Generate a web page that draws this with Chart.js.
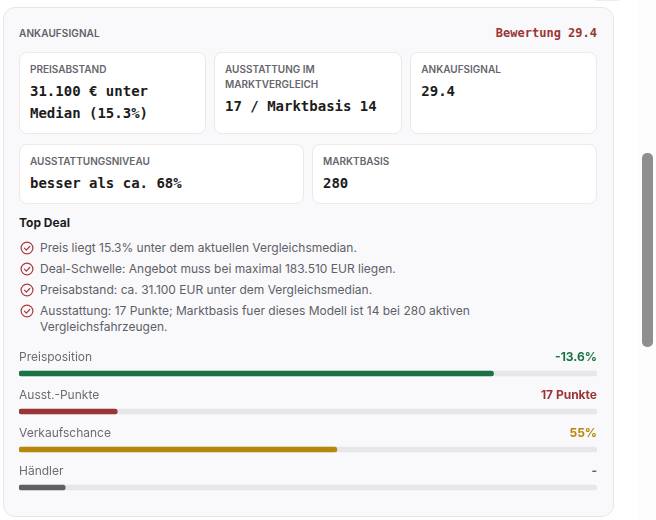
<!DOCTYPE html>
<html lang="de">
<head>
<meta charset="utf-8">
<title>Ankaufsignal</title>
<script src="https://cdn.jsdelivr.net/npm/chart.js@4"></script>
<style>
html, body { margin: 0; padding: 0; background: #fff; overflow: hidden; }
body { width: 656px; height: 520px; position: relative; font-family: Inter, "Noto Sans", sans-serif; }
.abs { position: absolute; }
#gutter { left: 638px; top: 0; width: 18px; height: 520px; background: #fdfdfd; }
#panel { left: 3px; top: 7px; width: 609px; height: 508px; background: #f9f9fc; border: 1px solid #e9e5e6; border-radius: 12px; }
#topmark { left: 595px; top: -4px; width: 25px; height: 5px; background: #f7e9e9; border-radius: 4px; }
#scroll { left: 642px; top: 153px; width: 11px; height: 194px; background: #8f8f8f; border-radius: 5px; }
.head { font-size: 10px; font-weight: 600; color: #5f6066; line-height: 16px; letter-spacing: 0.1px; }
.score { font-family: "DejaVu Sans Mono", monospace; font-size: 12px; font-weight: 700; color: #9b3535; line-height: 16px; white-space: nowrap; }
.tile { box-sizing: border-box; background: #fff; border: 1px solid #eee8e9; border-radius: 8px; padding: 9px 10px; }
.tile .lab { font-size: 10px; font-weight: 600; color: #66666c; line-height: 15px; }
.tile .val { font-family: "DejaVu Sans Mono", monospace; font-size: 14px; font-weight: 700; color: #1c1c20; line-height: 22px; margin-top: 3px; }
#title { left: 19px; top: 215px; font-size: 12px; font-weight: 700; color: #1c1c20; line-height: 16px; }
.li { left: 40px; width: 470px; font-size: 12px; color: #5f6066; line-height: 16px; }
.ico { left: 19.5px; width: 14px; height: 14px; }
#bars { left: 19px; top: 354px; }
.rowlab { left: 19px; font-size: 12px; color: #6b6b72; line-height: 16px; }
.rowval { right: 59px; font-size: 12px; font-weight: 700; line-height: 16px; }
</style>
</head>
<body>
<div class="abs" id="gutter"></div>
<div class="abs" id="topmark"></div>
<div class="abs" id="panel"></div>
<div class="abs" id="scroll"></div>

<div class="abs head" style="left:19px;top:25px">ANKAUFSIGNAL</div>
<div class="abs score" style="right:59px;top:25px">Bewertung 29.4</div>

<div class="abs tile" style="left:19px;top:52px;width:186.67px;height:82px"><div class="lab">PREISABSTAND</div><div class="val">31.100 € unter Median (15.3%)</div></div>
<div class="abs tile" style="left:214px;top:52px;width:188px;height:82px"><div class="lab">AUSSTATTUNG IM MARKTVERGLEICH</div><div class="val">17 / Marktbasis 14</div></div>
<div class="abs tile" style="left:410.33px;top:52px;width:186.67px;height:82px"><div class="lab">ANKAUFSIGNAL</div><div class="val">29.4</div></div>
<div class="abs tile" style="left:19px;top:144px;width:285px;height:60px"><div class="lab">AUSSTATTUNGSNIVEAU</div><div class="val">besser als ca. 68%</div></div>
<div class="abs tile" style="left:312px;top:144px;width:285px;height:60px"><div class="lab">MARKTBASIS</div><div class="val">280</div></div>

<div class="abs" id="title">Top Deal</div>
<div id="list"></div>

<div class="abs" id="bars"><canvas id="myCanvas" width="578" height="153"></canvas></div>
<div id="rows"></div>

<script>
// werte der balken (in prozent der spur)
const barLabels = ['Preisposition', 'Ausst.-Punkte', 'Verkaufschance', 'Händler'];
const barValues = [82.1, 17, 55, 8];
const barTexts = ['-13.6%', '17 Punkte', '55%', '-'];
const barColors = ['#1b7343', '#9b3535', '#b8860b', '#5f6066'];
const trackValues = [100, 100, 100, 100];

// text der liste
const dealLines = [
   'Preis liegt 15.3% unter dem aktuellen Vergleichsmedian.',
   'Deal-Schwelle: Angebot muss bei maximal 183.510 EUR liegen.',
   'Preisabstand: ca. 31.100 EUR unter dem Vergleichsmedian.',
   'Ausstattung: 17 Punkte; Marktbasis fuer dieses Modell ist 14 bei 280 aktiven Vergleichsfahrzeugen.'
];
const dealTops = [240, 261, 282, 303];

const list = document.getElementById('list');
dealLines.forEach((txt, i) => {
   list.insertAdjacentHTML('beforeend',
      '<svg class="abs ico" style="top:' + (dealTops[i] + 1) + 'px" viewBox="0 0 14 14" fill="none" stroke="#a83c3c" stroke-width="1.2">' +
      '<circle cx="7" cy="7" r="5.9"/><path d="M4.4 7.2l1.9 1.9 3.4-3.6" stroke-linecap="round" stroke-linejoin="round"/></svg>' +
      '<div class="abs li" style="top:' + dealTops[i] + 'px">' + txt + '</div>');
});

const canvas = document.getElementById('myCanvas');
const ctx = canvas.getContext('2d');
const myChart = new Chart(ctx, {
   type: 'bar',
   data: {
      labels: barLabels,
      datasets: [
         {
            label: 'Wert',
            data: barValues,
            backgroundColor: barColors,
            borderRadius: 3,
            borderSkipped: false,
            barThickness: 5,
            order: 1
         },
         {
            label: 'Spur',
            data: trackValues,
            backgroundColor: '#e7e7ea',
            borderRadius: 3,
            borderSkipped: false,
            barThickness: 5,
            order: 2
         }
      ]
   },
   options: {
      indexAxis: 'y',
      responsive: false,
      animation: false,
      grouped: false,
      layout: { padding: { top: 0.5, bottom: 0.5 } },
      plugins: { legend: { display: false }, tooltip: { enabled: false } },
      scales: {
         x: { display: false, min: 0, max: 100 },
         y: { display: false }
      }
   }
});

// beschriftung ueber jedem balken, position kommt von der y-skala
const rows = document.getElementById('rows');
const yScale = myChart.scales.y;
barLabels.forEach((name, i) => {
   const top = Math.round(354 + yScale.getPixelForValue(i) - 24.5);
   rows.insertAdjacentHTML('beforeend',
      '<div class="abs rowlab" style="top:' + top + 'px">' + name + '</div>' +
      '<div class="abs rowval" style="top:' + top + 'px;color:' + barColors[i] + '">' + barTexts[i] + '</div>');
});
</script>
</body>
</html>
